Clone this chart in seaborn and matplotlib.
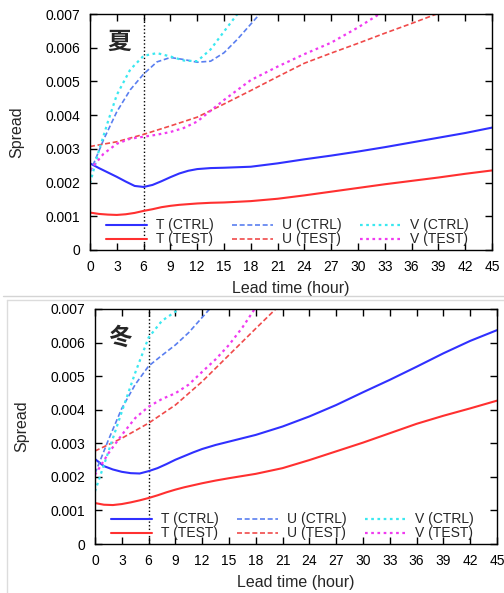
import matplotlib
matplotlib.use("Agg")
import matplotlib.pyplot as plt
from matplotlib.lines import Line2D
import seaborn as sns

sns.set_style("ticks")
plt.rcParams["font.family"] = ["Liberation Sans", "DejaVu Sans"]

# ---------------- data (spread, units of 1e-3) ----------------
hours_t = [0, 1, 2, 3, 4, 5, 6, 7, 8, 9, 10, 11, 12, 13.5, 15, 18, 21, 24, 27, 30, 33, 36, 39, 42, 45]

# summer
summer_t_ctrl = [2.57, 2.43, 2.30, 2.17, 2.03, 1.90, 1.87, 1.93, 2.04, 2.16, 2.27, 2.35, 2.40,
                 2.43, 2.44, 2.47, 2.57, 2.69, 2.80, 2.92, 3.05, 3.19, 3.33, 3.47, 3.63]
summer_t_test = [1.11, 1.07, 1.05, 1.04, 1.06, 1.10, 1.16, 1.21, 1.27, 1.31, 1.34, 1.36, 1.38,
                 1.40, 1.41, 1.45, 1.52, 1.62, 1.73, 1.84, 1.95, 2.05, 2.15, 2.26, 2.36]
summer_u_ctrl_h = [0, 1.5, 3, 4.5, 6, 7.5, 9, 10.5, 12, 13.5, 15, 16.5, 18, 19.5]
summer_u_ctrl = [2.30, 3.26, 4.10, 4.75, 5.22, 5.58, 5.71, 5.65, 5.57, 5.60, 5.85, 6.25, 6.70, 7.15]
summer_u_test_h = [0, 3, 6, 9, 12, 15, 18, 21, 24, 27, 30, 33, 36, 39, 42]
summer_u_test = [3.07, 3.21, 3.43, 3.68, 3.94, 4.33, 4.73, 5.14, 5.54, 5.84, 6.13, 6.43, 6.72, 7.02, 7.30]
summer_v_ctrl_h = [0, 1, 2, 3, 4.5, 6, 7.5, 9, 10.5, 12, 13.5, 15, 16.5, 18]
summer_v_ctrl = [1.98, 2.95, 3.80, 4.60, 5.35, 5.76, 5.84, 5.74, 5.62, 5.60, 5.95, 6.48, 7.00, 7.50]
summer_v_test_h = [0, 1.5, 3, 4.5, 6, 7.5, 9, 10.5, 12, 15, 18, 21, 24, 27, 30, 33, 36]
summer_v_test = [2.37, 2.85, 3.15, 3.30, 3.36, 3.42, 3.50, 3.62, 3.81, 4.45, 5.04, 5.44,
                 5.81, 6.15, 6.60, 7.10, 7.60]

# winter
winter_t_ctrl = [2.53, 2.32, 2.22, 2.15, 2.11, 2.10, 2.17, 2.26, 2.38, 2.51, 2.62, 2.73, 2.83,
                 2.95, 3.05, 3.25, 3.50, 3.80, 4.14, 4.52, 4.89, 5.28, 5.68, 6.05, 6.37]
winter_t_test = [1.22, 1.17, 1.16, 1.19, 1.24, 1.30, 1.37, 1.45, 1.54, 1.62, 1.69, 1.75, 1.81,
                 1.89, 1.96, 2.09, 2.26, 2.50, 2.76, 3.02, 3.30, 3.58, 3.82, 4.04, 4.27]
winter_u_ctrl_h = [0, 1.5, 3, 4.5, 6, 7.5, 9, 10.5, 12, 13.5]
winter_u_ctrl = [2.10, 3.10, 4.04, 4.75, 5.30, 5.62, 5.93, 6.30, 6.75, 7.20]
winter_u_test_h = [0, 3, 6, 9, 12, 15, 18, 21]
winter_u_test = [2.77, 3.15, 3.60, 4.14, 4.84, 5.63, 6.42, 7.20]
winter_v_ctrl_h = [0, 1.5, 3, 4.5, 6, 7.5, 9, 10.5]
winter_v_ctrl = [1.57, 2.75, 3.94, 5.10, 6.15, 6.65, 6.92, 7.20]
winter_v_test_h = [0, 1.5, 3, 4.5, 6, 7.5, 9, 10.5, 12, 13.5, 15, 16.5, 18, 19.5]
winter_v_test = [2.06, 2.70, 3.25, 3.75, 4.09, 4.32, 4.49, 4.75, 5.13, 5.50, 5.93, 6.45, 7.05, 7.50]

labels = ["T (CTRL)", "T (TEST)", "U (CTRL)", "U (TEST)", "V (CTRL)", "V (TEST)"]
colors = ["#3030ff", "#ff3030", "#5a7ff0", "#f04a4a", "#3ae8f0", "#f03af0"]
x_ticks = list(range(0, 46, 3))
y_ticks = [0, 0.001, 0.002, 0.003, 0.004, 0.005, 0.006, 0.007]
y_tick_labels = ["0", "0.001", "0.002", "0.003", "0.004", "0.005", "0.006", "0.007"]

W, H = 504, 593
fig = plt.figure(figsize=(W / 100, H / 100), dpi=100)


def frac(left, top, right, bottom):
    return [left / W, 1 - bottom / H, (right - left) / W, (bottom - top) / H]


def panel(rect, season, series, title_xy):
    ax = fig.add_axes(rect)
    styles = [
        dict(linestyle="-", linewidth=1.5),
        dict(linestyle="-", linewidth=1.5),
        dict(linestyle=(0, (3.0, 1.6)), linewidth=1.2),
        dict(linestyle=(0, (3.0, 1.6)), linewidth=1.2),
        dict(linestyle=(0, (1.2, 1.6)), linewidth=1.6),
        dict(linestyle=(0, (1.2, 1.6)), linewidth=1.6),
    ]
    for (hx, vals), lab, col, st in zip(series, labels, colors, styles):
        sns.lineplot(x=hx, y=[v * 1e-3 for v in vals], ax=ax, color=col,
                     label=lab, **st)
    ax.axvline(6, color="black", linestyle=(0, (1, 1.6)), linewidth=1.0, zorder=1)
    ax.set_xlim(0, 45)
    ax.set_ylim(0, 0.007)
    ax.set_xticks(x_ticks)
    ax.set_yticks(y_ticks)
    ax.set_yticklabels(y_tick_labels)
    ax.tick_params(direction="in", length=5, width=1, top=True, right=True,
                   labelsize=10, pad=7, colors="black")
    for s in ax.spines.values():
        s.set_color("black")
        s.set_linewidth(1.0)
    ax.set_xlabel("Lead time (hour)", fontsize=11.5, labelpad=5)
    ax.set_ylabel("Spread", fontsize=11.5, labelpad=15)
    ax.text(title_xy[0], title_xy[1], season, transform=ax.transAxes,
            fontsize=17, fontweight="bold", ha="center", va="center",
            family=["Noto Sans CJK SC", "DejaVu Sans"])
    ax.legend(ncol=3, loc="lower left", bbox_to_anchor=(0.04, 0.015),
              frameon=False, fontsize=10, handlelength=2.95, handletextpad=0.65,
              columnspacing=1.3, labelspacing=0.0, borderpad=0, borderaxespad=0)
    return ax


summer_series = [(hours_t, summer_t_ctrl), (hours_t, summer_t_test),
                 (summer_u_ctrl_h, summer_u_ctrl), (summer_u_test_h, summer_u_test),
                 (summer_v_ctrl_h, summer_v_ctrl), (summer_v_test_h, summer_v_test)]
winter_series = [(hours_t, winter_t_ctrl), (hours_t, winter_t_test),
                 (winter_u_ctrl_h, winter_u_ctrl), (winter_u_test_h, winter_u_test),
                 (winter_v_ctrl_h, winter_v_ctrl), (winter_v_test_h, winter_v_test)]

panel(frac(90, 14, 492, 250), "夏", summer_series, (0.072, 0.88))
panel(frac(95, 309, 497, 544), "冬", winter_series, (0.062, 0.877))

# thin grey separators between the two panels
fig.add_artist(Line2D([3 / W, 1], [1 - 296 / H] * 2, color="#d4d4d4", linewidth=1.0))
fig.add_artist(Line2D([7 / W, 1], [1 - 300 / H] * 2, color="#dcdcdc", linewidth=1.0))
fig.add_artist(Line2D([7 / W] * 2, [0, 1 - 300 / H], color="#dcdcdc", linewidth=1.0))

fig.savefig("out.png", dpi=100)
